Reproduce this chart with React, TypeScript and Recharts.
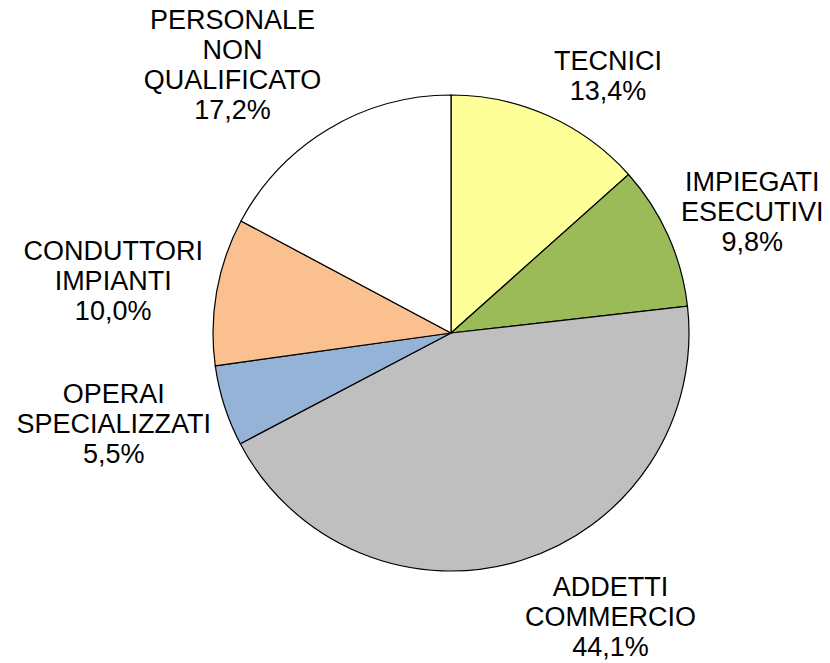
import React from "react";
import { PieChart, Pie, Cell } from "recharts";

// categories, clockwise from 12 o'clock
const categories = [
  "TECNICI",
  "IMPIEGATI\nESECUTIVI",
  "ADDETTI\nCOMMERCIO",
  "OPERAI\nSPECIALIZZATI",
  "CONDUTTORI\nIMPIANTI",
  "PERSONALE\nNON\nQUALIFICATO",
];
const shares = [13.4, 9.8, 44.1, 5.5, 10.0, 17.2];
const colors = ["#FFFF99", "#9BBB59", "#BFBFBF", "#95B3D7", "#FAC090", "#FFFFFF"];

const data = categories.map((name, i) => ({ name, value: shares[i] }));

const FONT = "'Liberation Sans', Arial, sans-serif";
const FONT_SIZE = 27;
const LINE_H = 30;

let ctx: CanvasRenderingContext2D | null = null;
function textWidth(s: string) {
  if (!ctx) {
    const c = document.createElement("canvas");
    ctx = c.getContext("2d");
  }
  if (ctx) {
    ctx.font = `${FONT_SIZE}px ${FONT}`;
    return ctx.measureText(s).width;
  }
  return s.length * FONT_SIZE * 0.65;
}

// excel-like "outside end" label: box pushed out along the slice bisector
function renderLabel(props: any) {
  const { cx, cy, midAngle, outerRadius, name, value } = props;
  const lines = [...String(name).split("\n"), `${Number(value).toFixed(1).replace(".", ",")}%`];
  const w = Math.max(...lines.map(textWidth));
  const h = lines.length * LINE_H;
  const rad = (midAngle * Math.PI) / 180;
  const ux = Math.cos(rad);
  const uy = -Math.sin(rad);
  const R = outerRadius + 14;
  const bx = cx + ux * R + Math.sign(ux) * (w / 2);
  const by = cy + uy * R + uy * (h / 2);
  const top = by - h / 2;
  return (
    <text
      x={bx}
      y={top}
      textAnchor="middle"
      fontFamily={FONT}
      fontSize={FONT_SIZE}
      fill="#000"
    >
      {lines.map((l, i) => (
        <tspan key={i} x={bx} y={top + 24 + i * LINE_H}>
          {l}
        </tspan>
      ))}
    </text>
  );
}

export default function App() {
  return (
    <div style={{ position: "absolute", left: 0, top: 0, width: 830, height: 663, background: "#fff" }}>
      <PieChart width={830} height={663} margin={{ top: 0, right: 0, bottom: 0, left: 0 }}>
        <Pie
          data={data}
          dataKey="value"
          nameKey="name"
          cx={451}
          cy={333}
          outerRadius={238}
          startAngle={90}
          endAngle={-270}
          stroke="#000"
          strokeWidth={1.2}
          label={renderLabel}
          labelLine={false}
          isAnimationActive={false}
        >
          {data.map((d, i) => (
            <Cell key={d.name} fill={colors[i]} stroke="#000" strokeWidth={1.2} />
          ))}
        </Pie>
      </PieChart>
    </div>
  );
}
